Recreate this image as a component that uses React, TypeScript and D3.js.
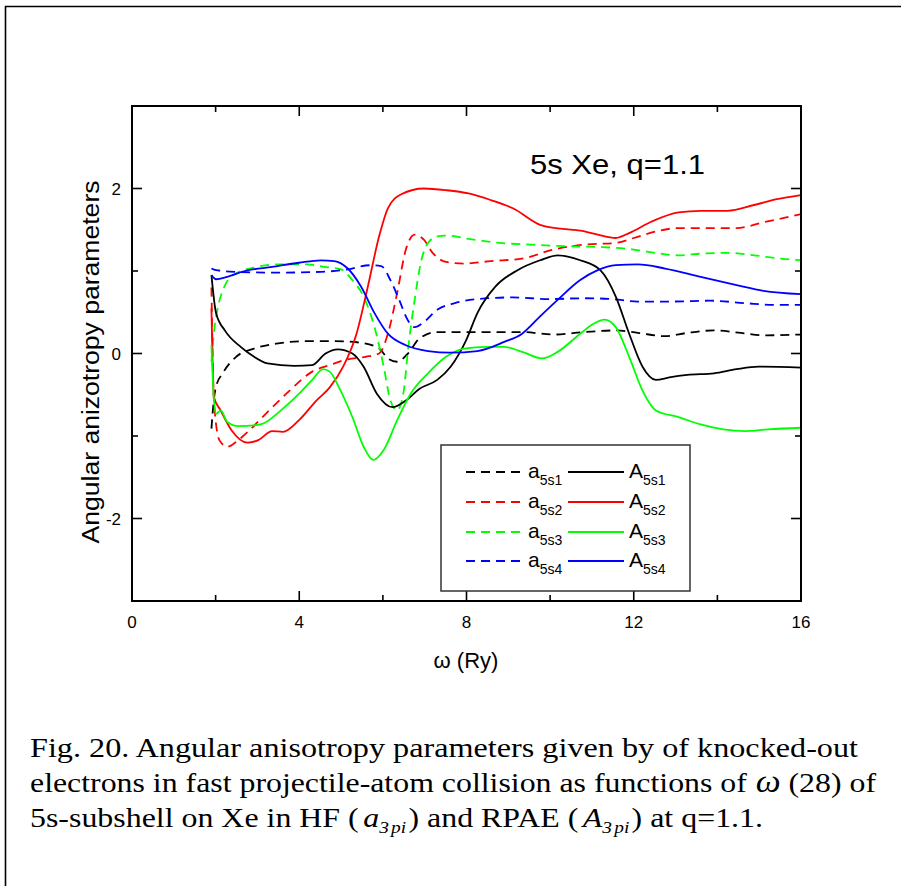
import React from "react";
import * as d3 from "d3";

// omega (Ry) / parameter pairs for each curve
const a5s1: [number, number][] = [
  [1.9, -0.91], [1.96, -0.55], [2.01, -0.4], [2.17, -0.24], [2.49, -0.04], [2.92, 0.06], [3.45, 0.12],
  [4.2, 0.15], [4.84, 0.15], [5.48, 0.13], [5.91, 0.06], [6.12, -0.06], [6.34, -0.1], [6.6, 0.0],
  [6.87, 0.18], [7.3, 0.26], [8.05, 0.26], [9.33, 0.26], [10.08, 0.23], [10.82, 0.26], [11.57, 0.28],
  [12.1, 0.25], [12.75, 0.21], [13.28, 0.25], [13.92, 0.28], [14.56, 0.25], [15.1, 0.22], [16, 0.23],
];
const A5s1: [number, number][] = [
  [1.9, 0.95], [2.01, 0.49], [2.22, 0.28], [2.6, 0.08], [2.92, -0.04], [3.24, -0.12], [3.88, -0.15],
  [4.31, -0.14], [4.63, 0.0], [4.92, 0.05], [5.27, 0.0], [5.54, -0.16], [5.86, -0.49], [6.23, -0.65],
  [6.55, -0.57], [6.87, -0.43], [7.3, -0.32], [7.62, -0.16], [7.99, 0.16], [8.26, 0.49], [8.69, 0.81],
  [9.22, 1.01], [9.76, 1.13], [10.18, 1.19], [10.72, 1.13], [11.2, 1.01], [11.57, 0.69], [11.89, 0.24],
  [12.21, -0.16], [12.53, -0.32], [12.85, -0.29], [13.28, -0.26], [13.92, -0.24], [14.46, -0.19],
  [14.99, -0.16], [16, -0.17],
];
const a5s2: [number, number][] = [
  [1.9, 0.8], [1.96, -0.57], [2.09, -1.05], [2.28, -1.13], [2.54, -1.05], [2.81, -0.93], [3.24, -0.71],
  [3.77, -0.45], [4.31, -0.22], [4.73, -0.14], [5.16, -0.07], [5.59, -0.04], [5.91, 0.0], [6.12, 0.24],
  [6.34, 0.73], [6.55, 1.26], [6.76, 1.44], [6.98, 1.38], [7.19, 1.22], [7.51, 1.11], [7.94, 1.09],
  [8.58, 1.12], [9.33, 1.15], [10.08, 1.26], [10.82, 1.32], [11.57, 1.34], [12.0, 1.4], [12.53, 1.48],
  [13.07, 1.52], [13.82, 1.52], [14.46, 1.52], [15.1, 1.59], [16, 1.69],
];
const A5s2: [number, number][] = [
  [1.9, 0.55], [1.96, -0.53], [2.12, -0.69], [2.38, -0.93], [2.76, -1.08], [3.02, -1.05], [3.35, -0.94],
  [3.61, -0.95], [3.99, -0.81], [4.41, -0.57], [4.73, -0.41], [5.05, -0.16], [5.37, 0.24], [5.64, 0.81],
  [5.91, 1.42], [6.12, 1.76], [6.44, 1.93], [6.98, 2.0], [7.51, 1.98], [8.05, 1.94], [8.58, 1.86],
  [9.11, 1.76], [9.76, 1.56], [10.29, 1.51], [10.72, 1.49], [11.14, 1.44], [11.57, 1.4], [11.89, 1.46],
  [12.43, 1.6], [13.07, 1.71], [13.6, 1.73], [14.24, 1.73], [14.88, 1.8], [15.42, 1.87], [16, 1.92],
];
const a5s3: [number, number][] = [
  [1.9, -0.1], [1.97, 0.3], [2.05, 0.55], [2.2, 0.8], [2.45, 0.96], [2.9, 1.04], [3.5, 1.08], [4.2, 1.08],
  [4.6, 1.05], [5.0, 1.02], [5.27, 0.89], [5.54, 0.69], [5.8, 0.32], [6.02, -0.16], [6.18, -0.57],
  [6.34, -0.69], [6.5, -0.45], [6.6, 0.04], [6.76, 0.65], [6.92, 1.13], [7.08, 1.34], [7.3, 1.42],
  [7.51, 1.43], [8.05, 1.39], [8.79, 1.34], [9.53, 1.32], [10.4, 1.3], [11.25, 1.29], [12.0, 1.26],
  [12.64, 1.21], [13.07, 1.19], [13.6, 1.21], [14.24, 1.22], [14.88, 1.19], [15.5, 1.15], [16, 1.13],
];
const A5s3: [number, number][] = [
  [1.9, 0.1], [1.96, -0.57], [2.01, -0.73], [2.12, -0.69], [2.28, -0.83], [2.54, -0.88], [2.92, -0.87],
  [3.13, -0.85], [3.56, -0.69], [3.99, -0.49], [4.31, -0.32], [4.57, -0.19], [4.73, -0.22], [4.95, -0.41],
  [5.27, -0.77], [5.54, -1.13], [5.77, -1.29], [6.02, -1.17], [6.34, -0.81], [6.66, -0.49], [7.08, -0.24],
  [7.51, -0.04], [7.94, 0.06], [8.48, 0.08], [8.9, 0.08], [9.33, 0.02], [9.81, -0.06], [10.18, 0.02],
  [10.72, 0.24], [11.04, 0.36], [11.3, 0.41], [11.57, 0.32], [11.89, -0.04], [12.21, -0.45],
  [12.53, -0.69], [13.07, -0.77], [13.6, -0.86], [14.14, -0.92], [14.67, -0.94], [15.2, -0.92], [16, -0.9],
];
const a5s4: [number, number][] = [
  [1.9, 1.03], [2.01, 1.01], [2.49, 0.99], [3.45, 0.98], [4.52, 0.99], [5.16, 1.02], [5.69, 1.07],
  [5.96, 1.06], [6.18, 0.89], [6.39, 0.65], [6.6, 0.4], [6.76, 0.32], [6.98, 0.38], [7.3, 0.53],
  [7.72, 0.61], [8.26, 0.66], [9.11, 0.68], [9.97, 0.66], [10.82, 0.67], [11.47, 0.66], [12.1, 0.63],
  [12.96, 0.63], [13.82, 0.64], [14.67, 0.61], [15.31, 0.59], [16, 0.59],
];
const A5s4: [number, number][] = [
  [1.9, 0.95], [2.01, 0.9], [2.28, 0.93], [2.7, 1.0], [3.35, 1.05], [3.99, 1.1], [4.52, 1.13], [4.84, 1.12],
  [5.16, 1.03], [5.48, 0.81], [5.8, 0.49], [6.12, 0.24], [6.55, 0.1], [7.08, 0.03], [7.62, 0.01],
  [8.26, 0.03], [8.9, 0.14], [9.33, 0.24], [9.76, 0.45], [10.18, 0.65], [10.72, 0.89], [11.14, 1.01],
  [11.57, 1.07], [12.1, 1.08], [12.75, 1.03], [13.6, 0.93], [14.46, 0.83], [15.1, 0.76], [16, 0.72],
];

const subshells = ["5s1", "5s2", "5s3", "5s4"];
const colors = ["#000000", "#ff0000", "#00ff00", "#0000ff"];
const hfSeries = [a5s1, a5s2, a5s3, a5s4];
const rpaeSeries = [A5s1, A5s2, A5s3, A5s4];

const xMajorTicks = [0, 4, 8, 12, 16];
const xMinorTicks = [2, 6, 10, 14];
const yMajorTicks = [-2, 0, 2];
const yMinorTicks = [-3, -1, 1, 3];

const plotTitle = "5s Xe, q=1.1";
const xLabel = "\u03c9 (Ry)";
const yLabel = "Angular anizotropy parameters";

const W = 901;
const H = 886;
const left = 132;
const right = 801;
const top = 106;
const bottom = 601;

export default function App() {
  const x = d3.scaleLinear().domain([0, 16]).range([left, right]);
  const y = d3.scaleLinear().domain([-3, 3]).range([bottom, top]);
  const line = d3
    .line<[number, number]>()
    .x((d) => x(d[0]))
    .y((d) => y(d[1]))
    .curve(d3.curveMonotoneX);

  const sans = "'Liberation Sans', Arial, Helvetica, sans-serif";
  const serif = "'Liberation Serif', 'Times New Roman', 'DejaVu Serif Condensed', 'DejaVu Serif', serif";

  const lx0 = 466;
  const lx1 = 522;
  const sx0 = 568;
  const sx1 = 624;
  const rowY = [472, 502, 532, 561];

  return (
    <svg
      width={W}
      height={H}
      viewBox={`0 0 ${W} ${H}`}
      style={{ position: "absolute", left: 0, top: 0, background: "#fff" }}
    >
      {/* page frame */}
      <path d={`M5.5,${H} V6.5 H${W}`} fill="none" stroke="#000" strokeWidth={1.6} />

      {/* curves */}
      <g fill="none" strokeWidth={1.8}>
        {hfSeries.map((s, i) => (
          <path key={`hf${i}`} d={line(s) ?? ""} stroke={colors[i]} strokeDasharray="9,6" />
        ))}
        {rpaeSeries.map((s, i) => (
          <path key={`rp${i}`} d={line(s) ?? ""} stroke={colors[i]} />
        ))}
      </g>

      {/* axes frame */}
      <rect x={left} y={top} width={right - left} height={bottom - top} fill="none" stroke="#000" strokeWidth={2} />

      {/* ticks */}
      <g stroke="#000" strokeWidth={1.6}>
        {xMajorTicks.map((t) => (
          <g key={`xM${t}`}>
            <line x1={x(t)} x2={x(t)} y1={bottom} y2={bottom - 10} />
            <line x1={x(t)} x2={x(t)} y1={top} y2={top + 10} />
          </g>
        ))}
        {xMinorTicks.map((t) => (
          <g key={`xm${t}`}>
            <line x1={x(t)} x2={x(t)} y1={bottom} y2={bottom - 6} />
            <line x1={x(t)} x2={x(t)} y1={top} y2={top + 6} />
          </g>
        ))}
        {yMajorTicks.map((t) => (
          <g key={`yM${t}`}>
            <line x1={left} x2={left + 10} y1={y(t)} y2={y(t)} />
            <line x1={right} x2={right - 10} y1={y(t)} y2={y(t)} />
          </g>
        ))}
        {yMinorTicks.map((t) => (
          <g key={`ym${t}`}>
            <line x1={left} x2={left + 6} y1={y(t)} y2={y(t)} />
            <line x1={right} x2={right - 6} y1={y(t)} y2={y(t)} />
          </g>
        ))}
      </g>

      {/* tick labels */}
      <g fontFamily={sans} fontSize={17} fill="#000">
        {xMajorTicks.map((t) => (
          <text key={`xl${t}`} x={x(t)} y={628} textAnchor="middle">
            {t}
          </text>
        ))}
        {yMajorTicks.map((t) => (
          <text key={`yl${t}`} x={121} y={y(t) + 6} textAnchor="end">
            {t < 0 ? `-${Math.abs(t)}` : t}
          </text>
        ))}
      </g>

      {/* axis titles */}
      <text x={466} y={668} textAnchor="middle" fontFamily={sans} fontSize={22}>
        {xLabel}
      </text>
      <text
        transform={`translate(99,362) rotate(-90)`}
        textAnchor="middle"
        fontFamily={sans}
        fontSize={23}
        textLength={363}
        lengthAdjust="spacingAndGlyphs"
      >
        {yLabel}
      </text>

      <text x={530} y={174} fontFamily={sans} fontSize={28} textLength={175} lengthAdjust="spacingAndGlyphs">
        {plotTitle}
      </text>

      {/* legend */}
      <rect x={441} y={445} width={249} height={146} fill="#fff" stroke="#333" strokeWidth={1.5} />
      {subshells.map((s, i) => (
        <g key={`lg${s}`}>
          <line x1={lx0} x2={lx1} y1={rowY[i]} y2={rowY[i]} stroke={colors[i]} strokeWidth={1.8} strokeDasharray="9,6" />
          <line x1={sx0} x2={sx1} y1={rowY[i]} y2={rowY[i]} stroke={colors[i]} strokeWidth={1.8} />
          <text x={528} y={rowY[i] + 6} fontFamily={sans} fontSize={21}>
            a
            <tspan fontSize={14} dy={7}>{s}</tspan>
          </text>
          <text x={629} y={rowY[i] + 6} fontFamily={sans} fontSize={21}>
            A
            <tspan fontSize={14} dy={7}>{s}</tspan>
          </text>
        </g>
      ))}

      {/* caption */}
      <g fontFamily={serif} fontSize={28} fill="#000">
        <text x={30} y={757} textLength={828} lengthAdjust="spacingAndGlyphs">
          Fig. 20. Angular anisotropy parameters given by of knocked-out
        </text>
        <text x={30} y={792} textLength={846} lengthAdjust="spacingAndGlyphs">
          electrons in fast projectile-atom collision as functions of
          <tspan fontStyle="italic" fontSize={31}> {"\u03c9"}</tspan>
          <tspan> (28) of</tspan>
        </text>
        <text x={30} y={827} textLength={733} lengthAdjust="spacingAndGlyphs">
          5s-subshell on Xe in HF (
          <tspan fontStyle="italic" dx={4}>a</tspan>
          <tspan fontStyle="italic" fontSize={17} dy={6}>3</tspan>
          <tspan fontStyle="italic" fontSize={17} dx={2}>pi</tspan>
          <tspan dy={-6} dx={2}>) and RPAE (</tspan>
          <tspan fontStyle="italic" dx={4}>A</tspan>
          <tspan fontStyle="italic" fontSize={17} dy={6}>3</tspan>
          <tspan fontStyle="italic" fontSize={17} dx={2}>pi</tspan>
          <tspan dy={-6} dx={2}>) at q=1.1.</tspan>
        </text>
      </g>
    </svg>
  );
}
